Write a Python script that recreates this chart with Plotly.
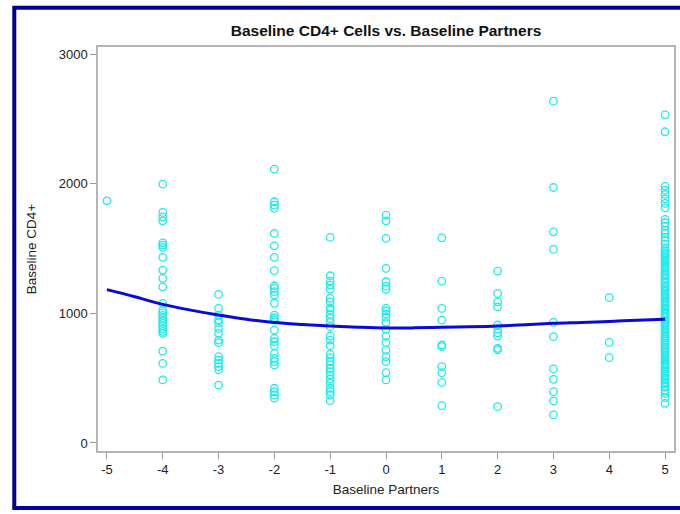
import plotly.graph_objects as go

# ---- data ----
cd4_m5 = [1868]
cd4_m4 = [1997, 1779, 1745, 1714, 1544, 1527, 1509, 1432, 1334, 1270, 1205, 1077, 1025,
          1005, 985, 961, 943, 922, 902, 881, 861, 846, 709, 614, 486]
cd4_m3 = [1146, 1038, 987, 950, 928, 884, 846, 794, 774, 666, 640, 614, 589, 563, 447]
cd4_m2 = [2113, 1861, 1835, 1810, 1617, 1521, 1432, 1329, 1213, 1193, 1167, 1141, 1077,
          987, 966, 948, 871, 807, 781, 750, 691, 653, 627, 601, 422, 396, 370, 345]
cd4_m1 = [1586, 1290, 1249, 1218, 1187, 1116, 1089, 1043, 1025, 992, 961, 930, 897, 825,
          794, 750, 684, 658, 627, 601, 576, 550, 524, 493, 460, 422, 396, 370, 326]
cd4_0 = [1758, 1714, 1578, 1347, 1244, 1210, 1185, 1038, 1018, 995, 969, 928, 877, 825,
         774, 717, 666, 627, 542, 486]
cd4_1 = [1583, 1249, 1038, 948, 756, 743, 589, 542, 465, 288]
cd4_2 = [1326, 1154, 1089, 1050, 910, 880, 850, 825, 730, 720, 280]
cd4_3 = [2637, 1971, 1629, 1493, 930, 820, 571, 491, 396, 324, 216]
cd4_4 = [1121, 776, 658]
cd4_5 = [2532, 2401, 1982, 1951, 1917, 1884, 1848, 1814, 1725, 1699, 1673, 1642, 1617,
         1586, 1560, 1534, 1500, 1483, 1468, 1456, 1439, 1427, 1411, 1396, 1383, 1364,
         1351, 1337, 1321, 1304, 1291, 1275, 1262, 1244, 1233, 1214, 1201, 1187, 1171,
         1155, 1141, 1124, 1113, 1095, 1081, 1065, 1052, 1035, 1021, 1004, 993, 974, 961,
         945, 931, 917, 903, 887, 873, 857, 843, 827, 813, 797, 785, 767, 753, 737, 723,
         707, 693, 677, 663, 647, 633, 617, 603, 587, 575, 557, 545, 529, 515, 499, 487,
         469, 457, 441, 429, 408, 383, 349, 306]

partners = [-5, -4, -3, -2, -1, 0, 1, 2, 3, 4, 5]
partner_labels = ["-5", "-4", "-3", "-2", "-1", "0", "1", "2", "3", "4", "5"]
cd4_by_partner = [cd4_m5, cd4_m4, cd4_m3, cd4_m2, cd4_m1, cd4_0, cd4_1, cd4_2, cd4_3,
                  cd4_4, cd4_5]
y_ticks = [0, 1000, 2000, 3000]

fit_x = [-5, -4.5, -4, -3.5, -3, -2.5, -2, -1.5, -1, -0.5, 0, 0.5, 1, 1.5, 2, 2.5, 3,
         3.5, 4, 4.5, 5]
fit_y = [1183, 1128, 1069, 1025, 987, 954, 929, 914, 902, 893, 887, 888, 892, 896, 902,
         912, 923, 930, 938, 946, 954]

xs, ys = [], []
for p, vals in zip(partners, cd4_by_partner):
    xs += [p] * len(vals)
    ys += vals

FONT = "Liberation Sans, Arial"

fig = go.Figure()
fig.add_trace(go.Scatter(
    x=xs, y=ys, mode="markers",
    marker=dict(symbol="circle-open", size=7.5, color="#20eaea",
                line=dict(width=1.3, color="#20eaea")),
    showlegend=False, hoverinfo="x+y"))
fig.add_trace(go.Scatter(
    x=fit_x, y=fit_y, mode="lines", line=dict(color="#0a0ad8", width=3, shape="spline"),
    showlegend=False))

axis_common = dict(showline=True, linecolor="#b4b4b4", linewidth=1.5, mirror=True,
                   ticks="outside", tickcolor="#9a9a9a", ticklen=6, tickwidth=1,
                   showgrid=False, zeroline=False,
                   tickfont=dict(family=FONT, size=13, color="#222222"))

fig.update_layout(
    width=680, height=514,
    margin=dict(l=98, r=4, t=47, b=63),
    paper_bgcolor="white", plot_bgcolor="white",
    title=dict(text="<b>Baseline CD4+ Cells vs. Baseline Partners</b>",
               xref="paper", x=0.5, xanchor="center",
               yref="container", y=0.94, yanchor="middle",
               font=dict(family=FONT, size=15.5, color="#111111")),
    xaxis=dict(range=[-5.16, 5.16], tickvals=partners, ticktext=partner_labels,
               title=dict(text="Baseline Partners", standoff=8,
                          font=dict(family=FONT, size=13.5, color="#222222")),
               **axis_common),
    yaxis=dict(range=[-62, 3055], tickvals=y_ticks,
               title=dict(text="Baseline CD4+", standoff=19,
                          font=dict(family=FONT, size=13.5, color="#222222")),
               **axis_common),
    shapes=[dict(type="rect", xref="paper", yref="paper",
                 x0=(14 - 98) / 578, x1=(700 - 98) / 578,
                 y0=(451 - 508) / 404, y1=(451 - 7.7) / 404,
                 line=dict(color="#000099", width=4), fillcolor="rgba(0,0,0,0)",
                 layer="below")],
)

fig.write_html("out.html")
